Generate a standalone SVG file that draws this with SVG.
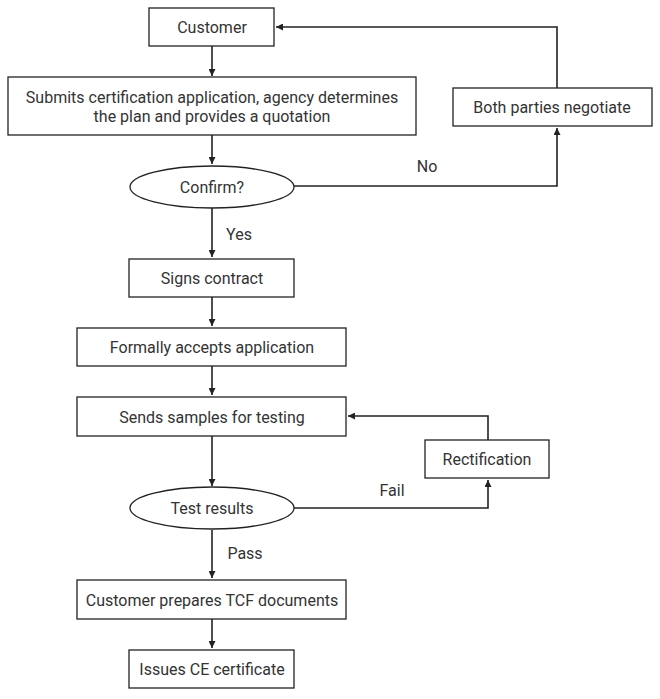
<svg xmlns="http://www.w3.org/2000/svg" width="660" height="699" viewBox="0 0 660 699">
<style>
.n{fill:#fff;stroke:#222;stroke-width:1.3}
.t{font-family:Roboto,"Liberation Sans",sans-serif;font-size:16px;fill:#333;text-anchor:middle;dominant-baseline:central}
.c{fill:none;stroke:#222;stroke-width:1.6}
</style>
<defs>
<marker id="a" viewBox="0 0 10 10" refX="10" refY="5" markerWidth="7" markerHeight="7" markerUnits="userSpaceOnUse" orient="auto">
<path d="M0,0L10,5L0,10z" fill="#222"/>
</marker>
</defs>
<rect width="660" height="699" fill="#fff"/>
<g id="connectors">
<path class="c" d="M212,46V76" marker-end="url(#a)"/>
<path class="c" d="M212,135V164" marker-end="url(#a)"/>
<path class="c" d="M212,208V257" marker-end="url(#a)"/>
<path class="c" d="M212,297V326" marker-end="url(#a)"/>
<path class="c" d="M212,366V395" marker-end="url(#a)"/>
<path class="c" d="M212,436V486" marker-end="url(#a)"/>
<path class="c" d="M212,530V578" marker-end="url(#a)"/>
<path class="c" d="M212,619V648" marker-end="url(#a)"/>
<path class="c" d="M294,186H557V128" marker-end="url(#a)"/>
<path class="c" d="M557,88V27H276" marker-end="url(#a)"/>
<path class="c" d="M294,508H488V480" marker-end="url(#a)"/>
<path class="c" d="M488,440V416H348" marker-end="url(#a)"/>
<text class="t" x="427" y="166">No</text>
<text class="t" x="239" y="234">Yes</text>
<text class="t" x="392" y="490">Fail</text>
<text class="t" x="245" y="553">Pass</text>
</g>
<g id="customer"><rect class="n" x="149" y="8" width="125" height="38"/><text class="t" x="212" y="27">Customer</text></g>
<g id="submit"><rect class="n" x="8" y="77" width="408" height="58"/><text class="t" x="212" y="97">Submits certification application, agency determines</text><text class="t" x="212" y="116">the plan and provides a quotation</text></g>
<g id="negotiate"><rect class="n" x="453" y="88" width="199" height="38"/><text class="t" x="552" y="107">Both parties negotiate</text></g>
<g id="confirm"><ellipse class="n" cx="212" cy="187" rx="82" ry="21"/><text class="t" x="212" y="187">Confirm?</text></g>
<g id="signs"><rect class="n" x="129" y="259" width="165" height="38"/><text class="t" x="212" y="278">Signs contract</text></g>
<g id="accepts"><rect class="n" x="77" y="328" width="269" height="38"/><text class="t" x="212" y="347">Formally accepts application</text></g>
<g id="samples"><rect class="n" x="77" y="397" width="269" height="39"/><text class="t" x="212" y="417">Sends samples for testing</text></g>
<g id="rectification"><rect class="n" x="425" y="440" width="124" height="38"/><text class="t" x="487" y="459">Rectification</text></g>
<g id="results"><ellipse class="n" cx="212" cy="508" rx="82" ry="21"/><text class="t" x="212" y="508">Test results</text></g>
<g id="tcf"><rect class="n" x="77" y="580" width="269" height="39"/><text class="t" x="212" y="600">Customer prepares TCF documents</text></g>
<g id="ce"><rect class="n" x="129" y="650" width="165" height="38"/><text class="t" x="212" y="669">Issues CE certificate</text></g>
</svg>
